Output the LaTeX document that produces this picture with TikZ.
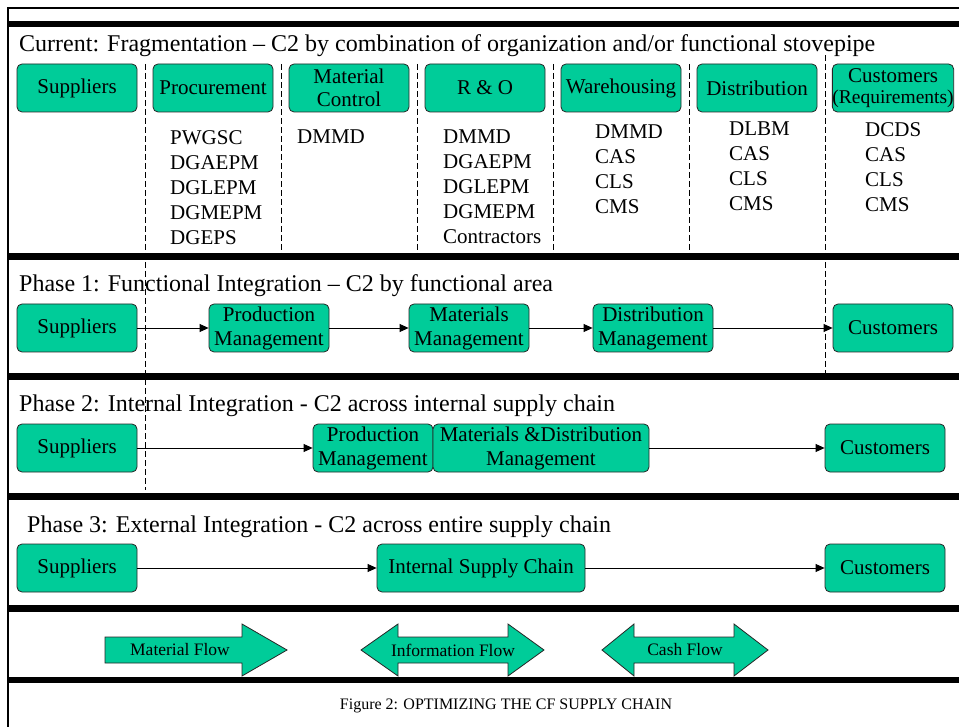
\documentclass[tikz,border=0pt]{standalone}
\usepackage{fontspec}
\setmainfont{Liberation Serif}
\usetikzlibrary{arrows.meta}
\definecolor{boxgreen}{RGB}{0,204,153}
\begin{document}
\begin{tikzpicture}[x=1pt,y=-1pt,
        unitbox/.style={draw=black!85,fill=boxgreen,rounded corners=5pt,line width=0.8pt,minimum width=120pt,minimum height=48pt,inner sep=0pt,align=center,font=\fontsize{21}{24}\selectfont},
        flowshape/.style={draw=black!85,fill=boxgreen,line width=0.8pt},
        flowtext/.style={inner sep=0pt,font=\fontsize{17.5}{20}\selectfont},
        divider/.style={line width=6.5pt},
        outline/.style={line width=1.8pt},
        pipe/.style={dash pattern=on 6pt off 3pt,line width=0.8pt},
        link/.style={-{Triangle[length=9pt,width=8pt]},line width=0.8pt},
        phasetitle/.style={anchor=base west,inner sep=0pt,font=\fontsize{24}{28}\selectfont},
        orglist/.style={anchor=north west,inner sep=0pt,align=left,font=\fontsize{21}{25}\selectfont}]
        \useasboundingbox (0,0) rectangle (959,727);
        \draw[outline] (8,727) -- (8,8) -- (959,8);
        \draw[divider] (8,24) -- (959,24);
        \draw[divider] (8,256.5) -- (959,256.5);
        \draw[divider] (8,376.5) -- (959,376.5);
        \draw[divider] (8,496.5) -- (959,496.5);
        \draw[divider] (8,608.5) -- (959,608.5);
        \draw[divider] (8,680) -- (959,680);
        \draw[pipe] (145,64) -- (145,490);
        \draw[pipe] (281,64) -- (281,253);
        \draw[pipe] (417,64) -- (417,253);
        \draw[pipe] (553,64) -- (553,253);
        \draw[pipe] (689,64) -- (689,253);
        \draw[pipe] (825,55) -- (825,373);
        \node[phasetitle] (curtitle) at (19,52) {Current: Fragmentation -- C2 by combination of organization and/or functional stovepipe};
        \node[unitbox] (supp0) at (77,88) {Suppliers};
        \node[unitbox] (proc) at (213,88) {Procurement};
        \node[unitbox] (matctl) at (349,88) {Material\\[-1pt]Control};
        \node[unitbox] (rno) at (485,88) {R \& O};
        \node[unitbox] (wareh) at (621,88) {Warehousing};
        \node[unitbox] (distr) at (757,88) {Distribution};
        \node[unitbox] (cust0) at (893,88) {Customers\\[-3pt]{\fontsize{19.5}{21}\selectfont(Requirements)}};
        \node[orglist] (proclist) at (170,130) {PWGSC\\DGAEPM\\DGLEPM\\DGMEPM\\DGEPS};
        \node[orglist] (matctllist) at (297,130) {DMMD};
        \node[orglist] (rnolist) at (443,130) {DMMD\\DGAEPM\\DGLEPM\\DGMEPM\\Contractors};
        \node[orglist] (warehlist) at (595,125) {DMMD\\CAS\\CLS\\CMS};
        \node[orglist] (distrlist) at (729,122) {DLBM\\CAS\\CLS\\CMS};
        \node[orglist] (custlist) at (865,122) {DCDS\\CAS\\CLS\\CMS};
        \node[phasetitle] (ph1title) at (19,292) {Phase 1: Functional Integration -- C2 by functional area};
        \node[unitbox] (supp1) at (77,328) {Suppliers};
        \node[unitbox] (prod1) at (269,328) {Production\\Management};
        \node[unitbox] (matl1) at (469,328) {Materials\\Management};
        \node[unitbox] (dist1) at (653,328) {Distribution\\Management};
        \node[unitbox] (cust1) at (893,328) {Customers};
        \draw[link] (supp1) -- (prod1);
        \draw[link] (prod1) -- (matl1);
        \draw[link] (matl1) -- (dist1);
        \draw[link] (dist1) -- (cust1);
        \node[phasetitle] (ph2title) at (19,411) {Phase 2: Internal Integration - C2 across internal supply chain};
        \node[unitbox] (supp2) at (77,448) {Suppliers};
        \node[unitbox] (prod2) at (373,448) {Production\\Management};
        \node[unitbox,minimum width=216pt] (matdist2) at (541,448) {Materials \&Distribution\\Management};
        \node[unitbox] (cust2) at (885,448) {Customers};
        \draw[link] (supp2) -- (prod2);
        \draw[link] (matdist2) -- (cust2);
        \node[phasetitle] (ph3title) at (27,532) {Phase 3: External Integration - C2 across entire supply chain};
        \node[unitbox] (supp3) at (77,568) {Suppliers};
        \node[unitbox,minimum width=208pt] (isc3) at (481,568) {Internal Supply Chain};
        \node[unitbox] (cust3) at (885,568) {Customers};
        \draw[link] (supp3) -- (isc3);
        \draw[link] (isc3) -- (cust3);
        \draw[flowshape] (105,637) -- (242,637) -- (242,624) -- (287,650) -- (242,676) -- (242,663) -- (105,663) -- cycle;
        \draw[flowshape] (361,650) -- (398,624) -- (398,637) -- (508,637) -- (508,624) -- (544,650) -- (508,676) -- (508,663) -- (398,663) -- (398,676) -- cycle;
        \draw[flowshape] (602,650) -- (634,624) -- (634,637) -- (734,637) -- (734,624) -- (768,650) -- (734,676) -- (734,663) -- (634,663) -- (634,676) -- cycle;
        \node[flowtext] (matflow) at (180,650) {Material Flow};
        \node[flowtext] (infoflow) at (453,650) {Information Flow};
        \node[flowtext] (cashflow) at (685,650) {Cash Flow};
        \node[font=\fontsize{16}{18}\selectfont] (caption) at (506,706) {Figure 2: OPTIMIZING THE CF SUPPLY CHAIN};
    \end{tikzpicture}
\end{document}
